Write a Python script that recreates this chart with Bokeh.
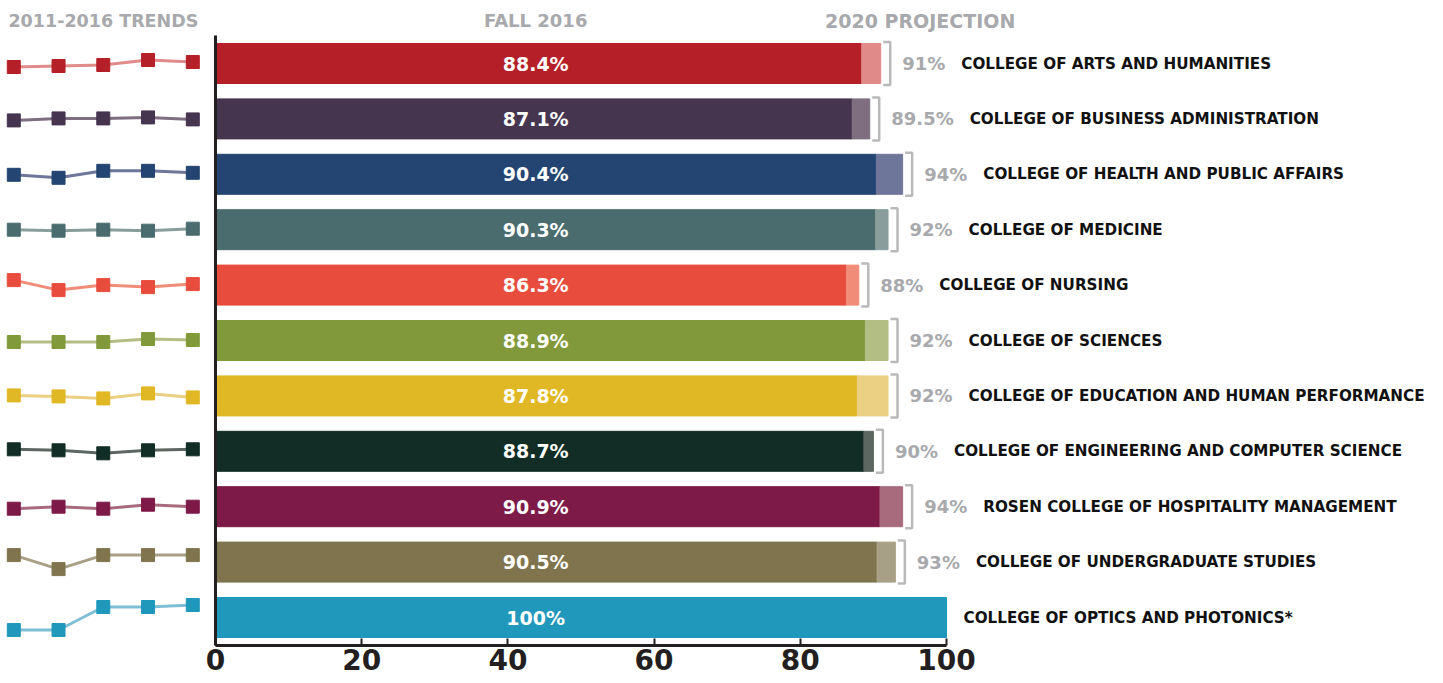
import numpy as np
from bokeh.plotting import figure
from bokeh.layouts import row
from bokeh.models import ColumnDataSource, Range1d, FixedTicker, LinearAxis
from bokeh.core.properties import value
from bokeh.embed import file_html
from bokeh.resources import INLINE

# ---------------- data ----------------
colleges = [
    "COLLEGE OF ARTS AND HUMANITIES",
    "COLLEGE OF BUSINESS ADMINISTRATION",
    "COLLEGE OF HEALTH AND PUBLIC AFFAIRS",
    "COLLEGE OF MEDICINE",
    "COLLEGE OF NURSING",
    "COLLEGE OF SCIENCES",
    "COLLEGE OF EDUCATION AND HUMAN PERFORMANCE",
    "COLLEGE OF ENGINEERING AND COMPUTER SCIENCE",
    "ROSEN COLLEGE OF HOSPITALITY MANAGEMENT",
    "COLLEGE OF UNDERGRADUATE STUDIES",
    "COLLEGE OF OPTICS AND PHOTONICS*",
]
fall_2016 = [88.4, 87.1, 90.4, 90.3, 86.3, 88.9, 87.8, 88.7, 90.9, 90.5, 100.0]
fall_labels = ["88.4%", "87.1%", "90.4%", "90.3%", "86.3%", "88.9%", "87.8%",
               "88.7%", "90.9%", "90.5%", "100%"]
proj_2020 = [91.0, 89.5, 94.0, 92.0, 88.0, 92.0, 92.0, 90.0, 94.0, 93.0, None]
proj_labels = ["91%", "89.5%", "94%", "92%", "88%", "92%", "92%", "90%", "94%", "93%", ""]

trend_years = [2012, 2013, 2014, 2015, 2016]
trend_arts = [85.9, 86.4, 86.9, 89.4, 88.4]
trend_business = [86.6, 87.6, 87.6, 88.1, 87.1]
trend_health = [89.4, 87.9, 91.4, 91.4, 90.4]
trend_medicine = [89.8, 89.3, 89.8, 89.3, 90.3]
trend_nursing = [88.3, 83.3, 85.8, 84.8, 86.3]
trend_sciences = [87.9, 87.9, 87.9, 89.4, 88.9]
trend_education = [88.8, 88.3, 87.3, 89.8, 87.8]
trend_engineering = [88.7, 88.2, 86.7, 88.2, 88.7]
trend_rosen = [89.9, 90.9, 89.9, 91.9, 90.9]
trend_undergrad = [90.5, 83.5, 90.5, 90.5, 90.5]
trend_optics = [87.5, 87.5, 99.0, 99.0, 100.0]
trends = [trend_arts, trend_business, trend_health, trend_medicine, trend_nursing,
          trend_sciences, trend_education, trend_engineering, trend_rosen,
          trend_undergrad, trend_optics]

x_ticks = [0, 20, 40, 60, 80, 100]

dark_colors = ["#b51f28", "#45354f", "#244571", "#4a6c6e", "#e84c3d", "#81993a",
               "#e0b724", "#112d25", "#7d1a48", "#7f744d", "#2098bc"]
light_colors = ["#e08a8a", "#7e6e80", "#6e7699", "#8a9d9d", "#f08c78", "#b3be85",
                "#ebd083", "#5b6760", "#a86b7d", "#a8a086", "#7fbfd4"]

# ---------------- layout constants ----------------
PX = 7.31            # pixels per percentage point on the main axis
ROW_PX = 55.4        # pixels between rows
FH = 683             # frame height (whole figure)
ROW0 = 63            # pixel of first row centre
Y_TOP = -ROW0 / ROW_PX
Y_BOT = (FH - ROW0) / ROW_PX
Y_AXIS = (645 - ROW0) / ROW_PX
BAR_H = 40 / ROW_PX
SPARK_PX = 2.0       # sparkline pixels per percentage point
GRAY = "#a7a9ac"
INK = "#231f20"
FONT = value("DejaVu Sans")

rows_idx = list(range(len(colleges)))
y_range = Range1d(Y_BOT, Y_TOP)

# ---------------- main figure ----------------
p = figure(frame_width=1238, frame_height=FH, x_range=Range1d(-10 / PX, 1228 / PX),
           y_range=y_range, output_backend="svg", toolbar_location=None,
           x_axis_location=None, y_axis_location=None, min_border=0)
p.outline_line_color = None
p.grid.visible = False
p.background_fill_color = "white"

ax = LinearAxis(fixed_location=Y_AXIS)
ax.ticker = FixedTicker(ticks=x_ticks)
ax.bounds = (0, 100)
ax.axis_line_width = 3
ax.axis_line_color = INK
ax.major_tick_in = 7
ax.major_tick_out = 0
ax.major_tick_line_width = 2
ax.major_tick_line_color = INK
ax.minor_tick_line_color = None
ax.major_label_text_font = "DejaVu Sans"
ax.major_label_text_font_style = "bold"
ax.major_label_text_font_size = "28px"
ax.major_label_text_color = INK
ax.major_label_standoff = 3
p.add_layout(ax, "below")

src = ColumnDataSource(dict(
    y=rows_idx, fall=fall_2016, label=fall_labels, dark=dark_colors, light=light_colors,
    name=colleges,
))
p.hbar(y="y", left=0, right="fall", height=BAR_H, color="dark", source=src)

# projection extension, brackets and labels
pi = [i for i in rows_idx if proj_2020[i] is not None]
proj = [proj_2020[i] for i in pi]
psrc = ColumnDataSource(dict(
    y=pi, left=[fall_2016[i] for i in pi], right=proj,
    color=[light_colors[i] for i in pi],
))
p.hbar(y="y", left="left", right="right", height=BAR_H, color="color", source=psrc)

BR_GAP = 9.5 / PX
BR_SERIF = 7 / PX
BR_HALF = 21.5 / ROW_PX
bx = [v + BR_GAP for v in proj]
p.multi_line(xs=[[b - BR_SERIF, b, b, b - BR_SERIF] for b in bx],
             ys=[[y - BR_HALF, y - BR_HALF, y + BR_HALF, y + BR_HALF] for y in pi],
             line_color="#b9b9b9", line_width=2.5)

CW = {".": 0.38, "%": 1.002}
def est_w(s, size):
    return sum(CW.get(c, 0.696) for c in s) * size

plab = [proj_labels[i] for i in pi]
p.text(x=bx, y=pi, text=plab, x_offset=12, text_font=FONT, text_font_style="bold",
       text_font_size="18px", text_color=GRAY, text_baseline="middle", text_align="left")

# college names
name_x = [(proj_2020[i] + BR_GAP) if proj_2020[i] is not None else fall_2016[i] for i in rows_idx]
name_off = [(12 + est_w(proj_labels[i], 18) + 16) if proj_2020[i] is not None else 17
            for i in rows_idx]
p.text(x=name_x, y=rows_idx, text=colleges, x_offset=name_off, text_font=FONT,
       text_font_style="bold", text_font_size="15.2px", text_color="#111111",
       text_baseline="middle", text_align="left")

# values inside bars
LABEL_X = 43.8
p.text(x=LABEL_X, y="y", text="label", source=src, text_font=FONT, text_font_style="bold",
       text_font_size="19px", text_color="white", text_baseline="middle", text_align="center")

# left axis line
p.segment(x0=[0], y0=[(35 - ROW0) / ROW_PX], x1=[0], y1=[Y_AXIS], line_color=INK, line_width=3)

# headers
HEAD_Y = (20 - ROW0) / ROW_PX
p.text(x=[LABEL_X], y=[HEAD_Y], text=["FALL 2016"],
       text_font=FONT, text_font_style="bold", text_font_size="18px", text_color=GRAY,
       text_baseline="middle", text_align="center")
p.text(x=[96.4], y=[HEAD_Y], text=["2020 PROJECTION"],
       text_font=FONT, text_font_style="bold", text_font_size="19px", text_color=GRAY,
       text_baseline="middle", text_align="center")

# ---------------- sparkline figure ----------------
s = figure(frame_width=205, frame_height=FH, x_range=Range1d(2011.703, 2016.284),
           y_range=y_range, output_backend="svg", toolbar_location=None,
           x_axis_location=None, y_axis_location=None, min_border=0)
s.outline_line_color = None
s.grid.visible = False

for i, t in enumerate(trends):
    t = np.array(t, dtype=float)
    mid = (t.min() + t.max()) / 2
    ys = i - (t - mid) * SPARK_PX / ROW_PX
    s.line(trend_years, ys, line_color=light_colors[i], line_width=3)
    s.scatter(trend_years, ys, marker="square", size=13, color=dark_colors[i])

s.text(x=[2011.88], y=[HEAD_Y], text=["2011-2016 TRENDS"], text_font=FONT,
       text_font_style="bold", text_font_size="17.5px", text_color=GRAY,
       text_baseline="middle", text_align="left")

layout = row(s, p)
open("out.html", "w").write(file_html(layout, INLINE))
